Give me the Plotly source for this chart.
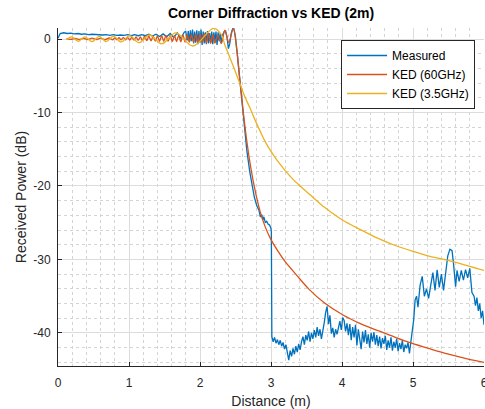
import plotly.graph_objects as go

# ---- Measured (blue) ----
meas_x = [0.00, 0.03, 0.08, 0.13, 0.18, 0.23, 0.28, 0.33, 0.38, 0.43, 0.48, 0.53, 0.58, 0.63, 0.68, 0.73,
          0.78, 0.83, 0.88, 0.93, 0.98, 1.03, 1.08, 1.13, 1.18, 1.23, 1.28, 1.33, 1.38, 1.43, 1.48, 1.53,
          1.58, 1.63, 1.68, 1.73, 1.78,
          1.80, 1.82, 1.835, 1.85, 1.865, 1.88, 1.895, 1.91, 1.925, 1.94, 1.955, 1.97, 1.985, 2.00, 2.015,
          2.03, 2.045, 2.06, 2.075, 2.09, 2.105, 2.12, 2.135, 2.15, 2.165, 2.18, 2.195, 2.21, 2.225, 2.24,
          2.255, 2.27, 2.285, 2.30, 2.32, 2.34, 2.36, 2.38, 2.40, 2.42, 2.44, 2.46, 2.475, 2.49,
          2.50, 2.53, 2.56, 2.59, 2.62, 2.66, 2.70, 2.735, 2.765, 2.80, 2.83, 2.85, 2.87, 2.885, 2.90, 2.92,
          2.94, 2.96, 2.98, 3.00, 3.005,
          3.012, 3.03, 3.05, 3.07, 3.09, 3.11, 3.13, 3.15, 3.17, 3.19, 3.21, 3.23, 3.25, 3.27, 3.29, 3.31,
          3.33, 3.35, 3.37, 3.39, 3.41, 3.43, 3.45, 3.47, 3.49, 3.51, 3.53, 3.55, 3.57, 3.59, 3.61, 3.63,
          3.65, 3.67, 3.69, 3.71, 3.73, 3.75, 3.77, 3.79, 3.81, 3.83, 3.85, 3.87, 3.89, 3.91, 3.93, 3.95,
          3.97, 3.99, 4.01, 4.03, 4.05, 4.07, 4.09, 4.11, 4.13, 4.15, 4.17, 4.19, 4.21, 4.23, 4.25, 4.27,
          4.29, 4.31, 4.33, 4.35, 4.37, 4.39, 4.41, 4.43, 4.45, 4.47, 4.49, 4.51, 4.53, 4.55, 4.57, 4.59,
          4.61, 4.63, 4.65, 4.67, 4.69, 4.71, 4.73, 4.75, 4.77, 4.79, 4.81, 4.83, 4.85, 4.87, 4.89, 4.91,
          4.93, 4.95, 4.97, 4.99,
          5.01, 5.03, 5.05, 5.07, 5.10, 5.13, 5.16, 5.19, 5.22, 5.25, 5.28, 5.31, 5.34, 5.37, 5.40, 5.43,
          5.46, 5.49, 5.52, 5.55, 5.57, 5.60, 5.62, 5.65, 5.68, 5.71, 5.74, 5.77, 5.80, 5.83, 5.86, 5.88,
          5.90, 5.92, 5.94, 5.96, 5.98, 6.00]
meas_y = [0.1, 0.75, 0.85, 0.75, 0.8, 0.7, 0.75, 0.65, 0.7, 0.6, 0.65, 0.6, 0.6, 0.55, 0.6, 0.5,
          0.6, 0.5, 0.55, 0.5, 0.6, 0.45, 0.6, 0.45, 0.6, 0.45, 0.65, 0.4, 0.65, 0.35, 0.7, 0.3,
          0.75, 0.2, 0.85, 0.1, 0.95,
          1.0, -0.2, 1.1, -0.4, 1.2, -0.3, 1.3, -0.6, 1.0, -0.5, 1.2, -0.7, 1.1, -0.5, 1.3,
          -0.8, 1.0, -0.6, 0.9, -0.7, 1.1, -0.6, 0.8, -0.5, 1.0, -0.7, 0.9, -0.4, 1.0, -0.8,
          0.9, -0.3, 0.8, -0.6, 0.6, 1.0, 1.1, 0.3, -1.3, -0.6, 0.8, 1.4, 1.45, 0.8,
          0.2, -2.5, -5.5, -8.8, -11.8, -15.2, -18.0, -20.0, -21.5, -22.7, -23.3, -24.2, -23.9, -24.6, -24.2, -25.0,
          -24.8, -25.2, -25.3, -25.8, -26.3,
          -40.5, -41.2, -40.6, -41.4, -40.9, -41.6, -41.0, -41.8, -41.3, -42.2, -41.6, -43.0, -43.7, -42.4, -43.2, -42.1,
          -42.9, -41.8, -42.6, -41.5, -42.3, -41.2, -40.5, -41.6, -40.3, -41.0, -39.8, -41.2, -40.0, -40.8, -39.6, -40.6,
          -39.2, -40.4, -39.5, -40.8, -39.8, -38.6, -37.2, -36.4, -38.8, -37.6, -40.1, -39.3, -40.6, -39.5, -40.2, -39.0,
          -38.4, -39.6, -37.9, -38.3, -39.8, -38.7, -40.3, -38.8, -41.0, -39.2, -40.6, -38.9, -41.7, -39.5, -40.8, -42.2,
          -39.8, -41.3, -39.6, -41.5, -40.2, -42.0, -40.0, -41.2, -39.9, -41.6, -40.3, -41.8, -40.5, -42.1, -40.7, -41.5,
          -40.4, -42.3, -41.0, -42.0, -40.6, -42.4, -41.2, -42.0, -40.8, -42.5, -41.4, -42.2, -41.0, -42.6, -41.6, -42.1,
          -41.3, -42.8, -41.2, -39.5,
          -38.2, -35.5, -35.0, -36.5, -33.5, -32.3, -35.0, -34.0, -35.3, -33.5, -31.8, -34.2, -31.4, -33.8, -32.0, -34.2,
          -31.8, -29.5, -28.6, -28.8, -30.5, -33.7, -31.5, -33.0, -31.5, -32.8, -31.4, -32.5, -31.2, -34.5, -35.0, -36.3,
          -35.2, -37.0, -36.0, -38.0, -37.0, -38.9]

# ---- KED 60 GHz (orange) ----
ked60_x = [0.12, 0.18, 0.24, 0.30, 0.36, 0.42, 0.48, 0.54, 0.60, 0.66, 0.72, 0.77,
           0.80, 0.83, 0.86, 0.89, 0.92, 0.95, 0.98, 1.01, 1.04, 1.07, 1.10, 1.13, 1.16, 1.19, 1.22, 1.25,
           1.28, 1.31, 1.34, 1.37, 1.40, 1.43, 1.46, 1.49, 1.52, 1.55, 1.58, 1.61, 1.64, 1.67, 1.70, 1.73,
           1.76, 1.79, 1.82, 1.85, 1.88, 1.91, 1.94, 1.97, 2.00, 2.03, 2.06, 2.09, 2.12, 2.15, 2.18, 2.21,
           2.25, 2.30, 2.35, 2.405, 2.47, 2.52, 2.55, 2.58, 2.61, 2.65, 2.70, 2.765, 2.85, 2.92, 3.00, 3.10,
           3.20, 3.375, 3.53, 3.75, 4.02, 4.25, 4.51, 4.75, 4.98, 5.25, 5.50, 5.75, 6.00]
ked60_y = [0.05, -0.05, 0.1, -0.05, 0.1, -0.08, 0.12, -0.08, 0.12, -0.1, 0.14, -0.1,
           0.15, -0.1, 0.18, -0.12, 0.2, -0.12, 0.22, -0.15, 0.25, -0.15, 0.28, -0.18, 0.3, -0.2, 0.35, -0.22,
           0.38, -0.25, 0.4, -0.28, 0.42, -0.3, 0.45, -0.3, 0.48, -0.32, 0.5, -0.35, 0.5, -0.35, 0.52, -0.38,
           0.55, -0.4, 0.58, -0.42, 0.6, -0.45, 0.65, -0.5, 0.7, -0.5, 0.72, -0.55, 0.75, -0.6, 0.6, -0.55,
           0.5, -0.6, 1.2, -0.5, 1.5, -1.6, -4.5, -7.2, -10.0, -13.2, -16.6, -20.1, -23.6, -25.6, -27.3, -28.9,
           -30.3, -32.3, -34.0, -35.9, -37.6, -38.7, -39.7, -40.6, -41.4, -42.2, -42.9, -43.5, -44.0]

# ---- KED 3.5 GHz (yellow) ----
ked35_x = [0.12, 0.19, 0.285, 0.38, 0.48, 0.58, 0.68, 0.78, 0.89, 1.01, 1.14, 1.29, 1.46, 1.66, 1.90,
           2.19, 2.30, 2.35, 2.42, 2.50, 2.56, 2.62, 2.70, 2.765, 2.85, 2.92, 3.00, 3.10, 3.20, 3.30, 3.41,
           3.55, 3.70, 3.85, 4.00, 4.25, 4.50, 4.75, 5.00, 5.25, 5.48, 5.75, 6.00]
ked35_y = [-0.1, 0.3, -0.3, 0.3, -0.35, 0.35, -0.35, 0.4, -0.4, 0.45, -0.5, 0.55, -0.65, 0.85, -0.95,
           1.45, 0.6, -0.8, -2.5, -4.5, -6.0, -7.6, -9.3, -10.8, -12.6, -14.0, -15.3, -16.7, -17.9, -19.0, -20.0,
           -21.2, -22.5, -23.6, -24.6, -25.9, -27.1, -28.1, -28.9, -29.6, -30.1, -30.8, -31.5]

series_names = ["Measured", "KED (60GHz)", "KED (3.5GHz)"]
series_colors = ["#0072BD", "#D95319", "#EDB120"]

x_tick_vals = [0, 1, 2, 3, 4, 5, 6]
x_tick_text = ["0", "1", "2", "3", "4", "5", "6"]
y_tick_vals = [-40, -30, -20, -10, 0]
y_tick_text = ["-40", "-30", "-20", "-10", "0"]

fig = go.Figure()
fig.add_trace(go.Scatter(x=meas_x, y=meas_y, mode="lines", name=series_names[0],
                         line=dict(color=series_colors[0], width=1.3)))
fig.add_trace(go.Scatter(x=ked60_x, y=ked60_y, mode="lines", name=series_names[1],
                         line=dict(color=series_colors[1], width=1.3, shape="spline", smoothing=0.8)))
fig.add_trace(go.Scatter(x=ked35_x, y=ked35_y, mode="lines", name=series_names[2],
                         line=dict(color=series_colors[2], width=1.3, shape="spline", smoothing=1.0)))

axis_common = dict(
    showline=True, linecolor="#262626", linewidth=1,
    ticks="inside", ticklen=4, tickcolor="#262626", tickwidth=1,
    showgrid=True, gridcolor="#dcdcdc", gridwidth=1,
    zeroline=False, mirror=False, automargin=False,
    ticklabeloverflow="allow",
    tickfont=dict(size=12, color="#262626"),
)

fig.update_xaxes(range=[0, 6], tickvals=x_tick_vals, ticktext=x_tick_text,
                 minor=dict(dtick=0.2, tick0=0, showgrid=True, gridcolor="#d4d4d4", griddash="dot", ticks=""),
                 title=dict(text="Distance (m)", font=dict(size=14, color="#262626"), standoff=8),
                 ticklabelstandoff=6,
                 **axis_common)
fig.update_yaxes(range=[-44.5, 1.5], tickvals=y_tick_vals, ticktext=y_tick_text,
                 minor=dict(dtick=2, tick0=0, showgrid=True, gridcolor="#d4d4d4", griddash="dot", ticks=""),
                 title=dict(text="Received Power (dB)", font=dict(size=14, color="#262626"), standoff=3),
                 ticklabelstandoff=4,
                 **axis_common)

fig.update_layout(
    width=485, height=409,
    margin=dict(l=58, r=1, t=28, b=43),
    paper_bgcolor="white", plot_bgcolor="white",
    font=dict(family="Liberation Sans, Arial, sans-serif", color="#262626"),
    title=dict(text="<b>Corner Diffraction vs KED (2m)</b>", font=dict(size=14, color="#000000"),
               x=0.5, xref="paper", xanchor="center", y=1 - 13 / 409, yref="container", yanchor="middle",
               pad=dict(t=0, b=0, l=0, r=0), automargin=False),
    legend=dict(x=0.979, y=0.9645, xanchor="right", yanchor="top",
                bgcolor="white", bordercolor="#262626", borderwidth=1, itemwidth=40,
                font=dict(size=12, color="#000000"), tracegroupgap=0),
    showlegend=True,
)

# remove the default page margin so the figure sits at the window's top-left corner
fig.write_html("out.html", config={"displayModeBar": False},
               post_script="document.body.style.margin='0px';document.body.style.overflow='hidden';")
